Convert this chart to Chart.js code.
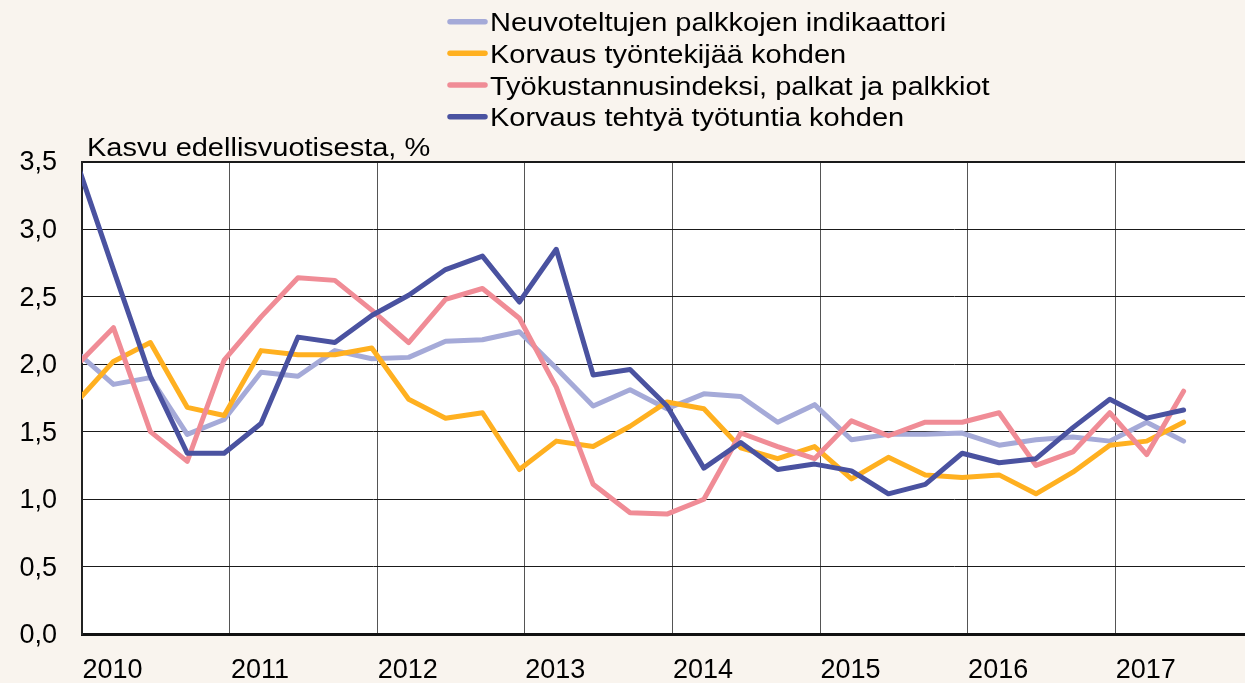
<!DOCTYPE html>
<html><head><meta charset="utf-8">
<script src="https://cdn.jsdelivr.net/npm/chart.js@4.4.1/dist/chart.umd.min.js"></script>
<style>
html,body{margin:0;padding:0;background:#f9f4ee;}
#wrap{width:1245px;height:683px;position:relative;overflow:hidden;}
canvas{display:block;}
</style></head><body>
<div id="wrap"><canvas id="c" width="1245" height="683"></canvas></div>
<script>
// ---- data ----
const quarters = [
  "2010Q1","2010Q2","2010Q3","2010Q4",
  "2011Q1","2011Q2","2011Q3","2011Q4",
  "2012Q1","2012Q2","2012Q3","2012Q4",
  "2013Q1","2013Q2","2013Q3","2013Q4",
  "2014Q1","2014Q2","2014Q3","2014Q4",
  "2015Q1","2015Q2","2015Q3","2015Q4",
  "2016Q1","2016Q2","2016Q3","2016Q4",
  "2017Q1","2017Q2","2017Q3"
];
const neuvoteltujen = [2.09,1.85,1.90,1.48,1.59,1.94,1.91,2.10,2.04,2.05,2.17,2.18,2.24,1.97,1.69,1.81,1.67,1.78,1.76,1.57,1.70,1.44,1.48,1.48,1.49,1.40,1.44,1.46,1.43,1.57,1.43];
const korvausTyontekija = [1.72,2.02,2.16,1.68,1.62,2.10,2.07,2.07,2.12,1.74,1.60,1.64,1.22,1.43,1.39,1.54,1.72,1.67,1.38,1.30,1.39,1.15,1.31,1.18,1.16,1.18,1.04,1.20,1.40,1.43,1.57];
const tyokustannus = [1.99,2.27,1.50,1.28,2.03,2.35,2.64,2.62,2.40,2.16,2.48,2.56,2.34,1.83,1.11,0.90,0.89,1.00,1.49,1.39,1.30,1.58,1.47,1.57,1.57,1.64,1.25,1.35,1.64,1.33,1.80];
const korvausTunti = [3.50,2.70,1.91,1.34,1.34,1.56,2.20,2.16,2.36,2.51,2.70,2.80,2.46,2.85,1.92,1.96,1.69,1.23,1.42,1.22,1.26,1.21,1.04,1.11,1.34,1.27,1.30,1.53,1.74,1.60,1.66];
const seriesNames = [
  "Neuvoteltujen palkkojen indikaattori",
  "Korvaus työntekijää kohden",
  "Työkustannusindeksi, palkat ja palkkiot",
  "Korvaus tehtyä työtuntia kohden"
];
const yearTicks = [2010,2011,2012,2013,2014,2015,2016,2017];
const valueTicks = [0,0.5,1.0,1.5,2.0,2.5,3.0,3.5];
const yTitle = "Kasvu edellisvuotisesta, %";

// ---- styling ----
const colors = ["#a5aad8","#ffb020","#f08c96","#4a52a0"];
const FONT = '"Liberation Sans", Arial, Helvetica, sans-serif';
const gridShift = 0.037;           // year grid lines sit slightly right of Q1 points
const xMin = yearTicks[0] + gridShift;
const xMax = xMin + 7.879;
const textStretch = 1.115;

const qx = quarters.map(q => +q.slice(0,4) + (+q.slice(5) - 1) / 4);
const toPts = arr => arr.map((v,i) => ({x: qx[i], y: v}));
const allSeries = [neuvoteltujen, korvausTyontekija, tyokustannus, korvausTunti];

const datasets = allSeries.map((s,i) => ({
  label: seriesNames[i],
  data: toPts(s),
  borderColor: colors[i],
  backgroundColor: colors[i],
  borderWidth: 5,
  pointRadius: 0,
  tension: 0,
  borderJoinStyle: 'round',
  borderCapStyle: 'round',
  order: 4 - i
}));

function stretchedText(ctx, text, x, y) {
  ctx.save();
  ctx.translate(x, y);
  ctx.scale(textStretch, 1);
  ctx.fillText(text, 0, 0);
  ctx.restore();
}

const decor = {
  id: 'decor',
  beforeDraw(chart) {
    const {ctx, chartArea: a} = chart;
    ctx.save();
    ctx.fillStyle = '#f9f4ee';
    ctx.fillRect(0, 0, chart.width, chart.height);
    ctx.fillStyle = '#ffffff';
    ctx.fillRect(a.left, a.top, a.right - a.left, a.bottom - a.top);
    ctx.restore();
  },
  afterDraw(chart) {
    const ctx = chart.ctx;
    ctx.save();
    ctx.font = '26px ' + FONT;
    ctx.textBaseline = 'alphabetic';
    ctx.textAlign = 'left';
    chart.data.datasets.forEach((ds, i) => {
      const y = 21.7 + i * 31.67;
      ctx.strokeStyle = ds.borderColor;
      ctx.lineWidth = 5.5;
      ctx.lineCap = 'round';
      ctx.beginPath();
      ctx.moveTo(450, y);
      ctx.lineTo(485, y);
      ctx.stroke();
      ctx.fillStyle = '#000';
      stretchedText(ctx, ds.label, 490, y + 9.5);
    });
    ctx.fillStyle = '#000';
    stretchedText(ctx, yTitle, 87, 156);
    ctx.restore();
  }
};

new Chart(document.getElementById('c'), {
  type: 'line',
  data: { datasets },
  options: {
    responsive: false,
    devicePixelRatio: 1,
    animation: false,
    layout: { padding: { top: 161.5, left: 0, right: 0, bottom: 0 } },
    plugins: { legend: { display: false }, tooltip: { enabled: false }, title: { display: false } },
    scales: {
      x: {
        type: 'linear',
        min: xMin,
        max: xMax,
        afterBuildTicks: s => { s.ticks = yearTicks.map(y => ({ value: y + gridShift })); },
        afterFit: s => { s.height = 48.7; },
        ticks: {
          callback: v => String(Math.floor(v)),
          font: { size: 27, family: FONT },
          color: '#000',
          padding: 20,
          labelOffset: 30.5,
          maxRotation: 0,
          autoSkip: false
        },
        grid: { color: '#555', lineWidth: 1, drawTicks: false, tickLength: 0 },
        border: { color: '#111', width: 3 }
      },
      y: {
        type: 'linear',
        min: 0,
        max: 3.5,
        afterBuildTicks: s => { s.ticks = valueTicks.map(v => ({ value: v })); },
        afterFit: s => { s.width = 82; },
        ticks: {
          callback: v => v.toFixed(1).replace('.', ','),
          font: { size: 27, family: FONT },
          color: '#000',
          padding: 25,
          labelOffset: 1.5
        },
        grid: {
          color: '#1a1a1a',
          lineWidth: c => (c.tick && c.tick.value === 3.5) ? 2 : 1,
          drawTicks: false,
          tickLength: 0
        },
        border: { color: '#222', width: 2 }
      }
    }
  },
  plugins: [decor]
});
</script>
</body></html>
